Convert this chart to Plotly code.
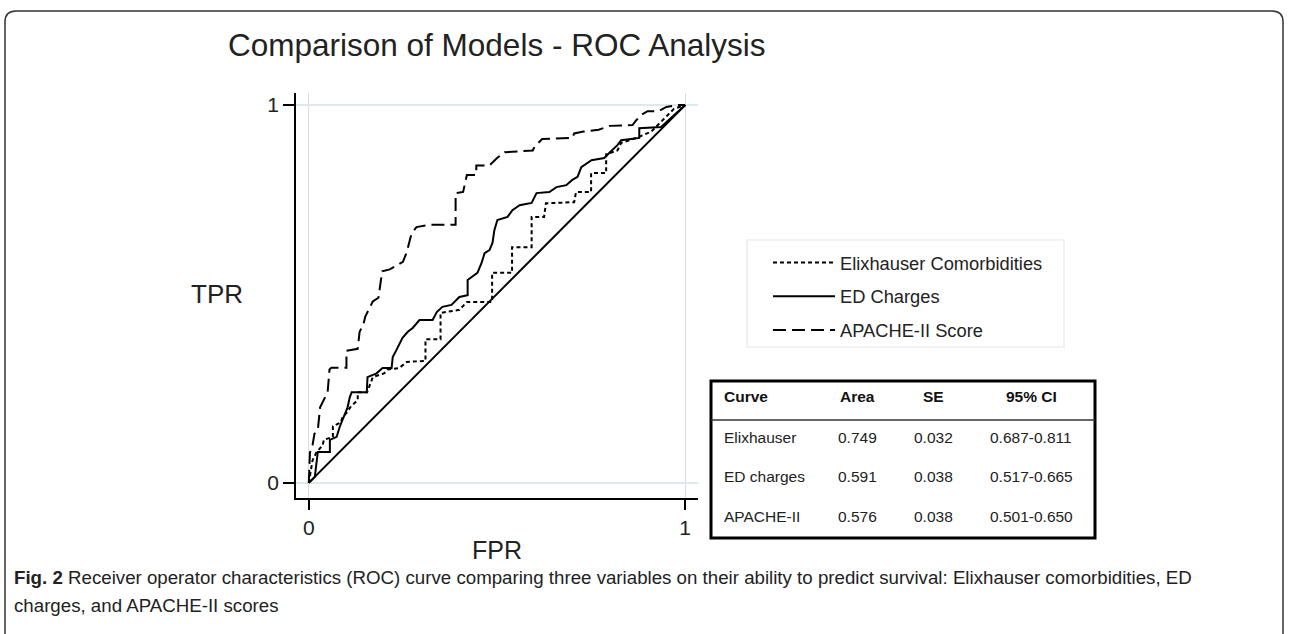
import plotly.graph_objects as go

W, H = 1290, 634

# ---------------- data ----------------
elix_fpr = [0, 0.003, 0.01, 0.02, 0.037, 0.04, 0.064, 0.064, 0.085, 0.09, 0.1, 0.11, 0.13, 0.13, 0.155,
            0.17, 0.2, 0.21, 0.24, 0.26, 0.31, 0.31, 0.35, 0.35, 0.4, 0.42, 0.487, 0.487, 0.54, 0.54,
            0.592, 0.592, 0.625, 0.63, 0.705, 0.71, 0.75, 0.75, 0.79, 0.79, 0.82, 0.83, 0.87, 0.91,
            0.94, 0.97, 1]
elix_tpr = [0, 0.02, 0.06, 0.08, 0.1, 0.114, 0.122, 0.15, 0.16, 0.175, 0.185, 0.2, 0.22, 0.24, 0.24,
            0.28, 0.29, 0.3, 0.304, 0.32, 0.323, 0.38, 0.38, 0.45, 0.458, 0.479, 0.479, 0.556, 0.556,
            0.624, 0.624, 0.704, 0.704, 0.74, 0.743, 0.77, 0.77, 0.82, 0.82, 0.87, 0.88, 0.9, 0.913,
            0.93, 0.96, 0.99, 1]

ed_fpr = [0, 0.016, 0.024, 0.056, 0.056, 0.074, 0.082, 0.095, 0.103, 0.109, 0.114, 0.154, 0.156, 0.18,
          0.196, 0.22, 0.223, 0.233, 0.249, 0.263, 0.276, 0.294, 0.329, 0.34, 0.355, 0.379, 0.4, 0.422,
          0.422, 0.448, 0.459, 0.467, 0.48, 0.488, 0.493, 0.501, 0.528, 0.541, 0.56, 0.592, 0.605,
          0.639, 0.658, 0.684, 0.7, 0.714, 0.724, 0.751, 0.785, 0.798, 0.82, 0.83, 0.878, 0.878,
          0.936, 1]
ed_tpr = [0, 0.016, 0.082, 0.082, 0.114, 0.122, 0.148, 0.18, 0.2, 0.227, 0.24, 0.24, 0.28, 0.29,
          0.304, 0.304, 0.333, 0.352, 0.384, 0.4, 0.41, 0.431, 0.431, 0.452, 0.466, 0.471, 0.492,
          0.497, 0.537, 0.556, 0.582, 0.608, 0.616, 0.635, 0.669, 0.696, 0.704, 0.722, 0.735, 0.741,
          0.767, 0.77, 0.783, 0.788, 0.802, 0.81, 0.836, 0.854, 0.86, 0.873, 0.894, 0.907, 0.913,
          0.939, 0.942, 1]

apache_fpr = [0, 0.003, 0.01, 0.015, 0.024, 0.03, 0.04, 0.05, 0.055, 0.06, 0.1, 0.1, 0.13, 0.135,
              0.145, 0.15, 0.16, 0.17, 0.185, 0.195, 0.215, 0.25, 0.26, 0.273, 0.286, 0.32, 0.39,
              0.39, 0.41, 0.42, 0.445, 0.445, 0.48, 0.5, 0.52, 0.595, 0.6, 0.62, 0.7, 0.705, 0.73,
              0.77, 0.8, 0.86, 0.87, 0.885, 0.9, 0.93, 0.95, 0.98, 1]
apache_tpr = [0, 0.08, 0.1, 0.13, 0.14, 0.2, 0.22, 0.24, 0.3, 0.305, 0.305, 0.35, 0.355, 0.4, 0.42,
              0.44, 0.46, 0.48, 0.49, 0.56, 0.565, 0.585, 0.61, 0.66, 0.677, 0.683, 0.683, 0.767,
              0.77, 0.815, 0.815, 0.84, 0.84, 0.86, 0.875, 0.88, 0.89, 0.91, 0.913, 0.925, 0.93,
              0.935, 0.945, 0.947, 0.96, 0.975, 0.984, 0.984, 0.995, 1.0, 1]

ref_line = [0, 1]

series_names = ["Elixhauser Comorbidities", "ED Charges", "APACHE-II Score"]

table_header = ["Curve", "Area", "SE", "95% CI"]
table_curves = ["Elixhauser", "ED charges", "APACHE-II"]
table_area = ["0.749", "0.591", "0.576"]
table_se = ["0.032", "0.038", "0.038"]
table_ci = ["0.687-0.811", "0.517-0.665", "0.501-0.650"]

x_ticks = [0, 1]
y_ticks = [0, 1]

title_text = "Comparison of Models - ROC Analysis"
caption_bold = "Fig. 2"
caption_line1 = (" Receiver operator characteristics (ROC) curve comparing three variables on their "
                 "ability to predict survival: Elixhauser comorbidities, ED")
caption_line2 = "charges, and APACHE-II scores"

# ---------------- helpers ----------------
def px(x):
    return x / W

def py(y):
    return 1 - y / H

FONT = "Liberation Sans, Arial, sans-serif"

fig = go.Figure()

fig.add_trace(go.Scatter(x=ref_line, y=ref_line, mode="lines",
                         line=dict(color="black", width=2), showlegend=False, hoverinfo="skip"))
fig.add_trace(go.Scatter(x=elix_fpr, y=elix_tpr, mode="lines", name=series_names[0],
                         legendgroup="a", line=dict(color="black", width=2, dash="4px,3px")))
fig.add_trace(go.Scatter(x=ed_fpr, y=ed_tpr, mode="lines", name=series_names[1],
                         legendgroup="b", line=dict(color="black", width=2)))
fig.add_trace(go.Scatter(x=apache_fpr, y=apache_tpr, mode="lines", name=series_names[2],
                         legendgroup="c", line=dict(color="black", width=2, dash="13px,6px")))

xdom = [px(296), px(698)]
ydom = [py(498), py(93)]

fig.update_layout(
    width=W, height=H,
    margin=dict(l=0, r=0, t=0, b=0),
    paper_bgcolor="white", plot_bgcolor="white",
    font=dict(family=FONT, color="#222"),
    showlegend=True,
    legend=dict(x=px(768), y=py(244), xanchor="left", yanchor="top",
                bgcolor="rgba(0,0,0,0)", borderwidth=0,
                font=dict(size=18.3, family=FONT, color="#222"),
                tracegroupgap=7, itemwidth=62),
    xaxis=dict(domain=xdom, range=[-0.034, 1.034], tickvals=x_ticks, ticktext=[str(v) for v in x_ticks],
               showline=True, linecolor="black", linewidth=1.5, ticks="outside", ticklen=10,
               tickcolor="black", tickwidth=1.5,
               showgrid=True, gridcolor="#d9dde0", gridwidth=1.2, zeroline=False,
               tickfont=dict(size=21, color="#222"), fixedrange=True),
    yaxis=dict(domain=ydom, range=[-0.04, 1.032], tickvals=y_ticks, ticktext=[str(v) for v in y_ticks],
               showline=True, linecolor="black", linewidth=1.5, ticks="outside", ticklen=11,
               tickcolor="black", tickwidth=1.5,
               showgrid=True, gridcolor="#dde9ee", gridwidth=1.5, zeroline=False,
               tickfont=dict(size=21, color="#222"), fixedrange=True),
)

# table / legend box geometry
TL, TR, TT, TB = 711, 1095, 381, 538
LEG_L, LEG_R, LEG_T, LEG_B = 747, 1064, 240, 347

shapes = []
frame = (f"M {px(5)},{py(640)} L {px(5)},{py(22)} Q {px(5)},{py(11)} {px(16)},{py(11)} "
         f"L {px(1272)},{py(11)} Q {px(1283)},{py(11)} {px(1283)},{py(22)} L {px(1283)},{py(640)}")
shapes.append(dict(type="path", xref="paper", yref="paper", path=frame,
                   line=dict(color="#333", width=1.5)))
shapes.append(dict(type="rect", xref="paper", yref="paper", x0=px(LEG_L), x1=px(LEG_R),
                   y0=py(LEG_B), y1=py(LEG_T), line=dict(color="#dfe8ec", width=1.2)))
shapes.append(dict(type="rect", xref="paper", yref="paper", x0=px(TL), x1=px(TR),
                   y0=py(TB), y1=py(TT), line=dict(color="black", width=3)))
shapes.append(dict(type="line", xref="paper", yref="paper", x0=px(TL), x1=px(TR),
                   y0=py(420), y1=py(420), line=dict(color="#333", width=1.5)))
fig.update_layout(shapes=shapes)

ann = []
# title centred over the plot region (Stata default)
ann.append(dict(text=title_text, x=px(497), y=py(45), xref="paper", yref="paper",
                xanchor="center", yanchor="middle", showarrow=False,
                font=dict(size=31.5, family=FONT, color="#222")))
ann.append(dict(text="TPR", x=px(245), y=py(294), xref="paper", yref="paper",
                xanchor="right", yanchor="middle", showarrow=False,
                font=dict(size=26, family=FONT, color="#222")))
ann.append(dict(text="FPR", x=px(497), y=py(550), xref="paper", yref="paper",
                xanchor="center", yanchor="middle", showarrow=False,
                font=dict(size=25, family=FONT, color="#222")))

# table text
col_x = [722, 857, 933, 1031]
col_anchor = ["left", "center", "center", "center"]
header_y = 396
row_y = [437, 476, 516]
for j, h in enumerate(table_header):
    ann.append(dict(text=f"<b>{h}</b>", x=px(col_x[j]), y=py(header_y), xref="paper", yref="paper",
                    xanchor=col_anchor[j], yanchor="middle", showarrow=False,
                    font=dict(size=15.5, family=FONT, color="#111")))
for i in range(len(table_curves)):
    vals = [table_curves[i], table_area[i], table_se[i], table_ci[i]]
    for j, v in enumerate(vals):
        ann.append(dict(text=v, x=px(col_x[j]), y=py(row_y[i]), xref="paper", yref="paper",
                        xanchor=col_anchor[j], yanchor="middle", showarrow=False,
                        font=dict(size=15.5, family=FONT, color="#222")))

# caption
ann.append(dict(text=f"<b>{caption_bold}</b>{caption_line1}", x=px(12), y=py(577), xref="paper",
                yref="paper", xanchor="left", yanchor="middle", showarrow=False,
                font=dict(size=18.7, family=FONT, color="#222")))
ann.append(dict(text=caption_line2, x=px(12), y=py(605), xref="paper",
                yref="paper", xanchor="left", yanchor="middle", showarrow=False,
                font=dict(size=18.7, family=FONT, color="#222")))

fig.update_layout(annotations=ann)

fig.write_html("out.html", config={"displayModeBar": False},
               post_script="document.body.style.margin='0';document.body.style.overflow='hidden';")
